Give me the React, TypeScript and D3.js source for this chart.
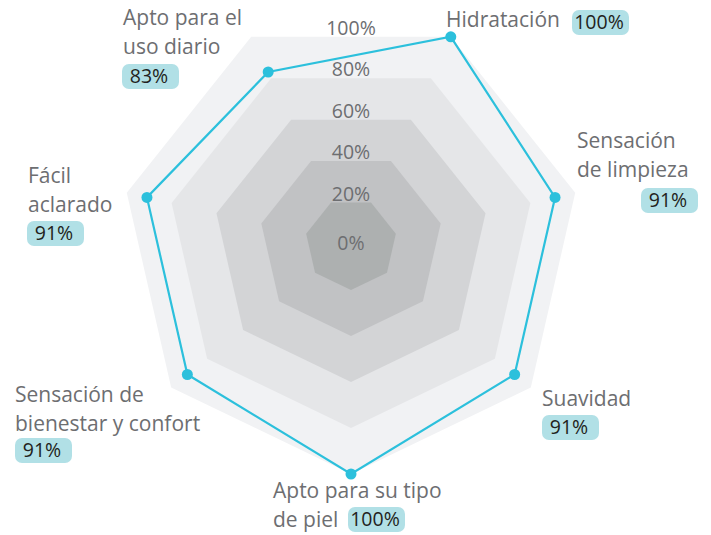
import React from "react";
import * as d3 from "d3";

const categories = [
  "Hidratación",
  "Sensación de limpieza",
  "Suavidad",
  "Apto para su tipo de piel",
  "Sensación de bienestar y confort",
  "Fácil aclarado",
  "Apto para el uso diario",
];
const values = [100, 91, 91, 100, 91, 91, 83];
const labelLines = [
  ["Hidratación"],
  ["Sensación", "de limpieza"],
  ["Suavidad"],
  ["Apto para su tipo", "de piel"],
  ["Sensación de", "bienestar y confort"],
  ["Fácil", "aclarado"],
  ["Apto para el", "uso diario"],
];
const levels = [100, 80, 60, 40, 20];
const tickLabels = ["0%", "20%", "40%", "60%", "80%", "100%"];
const tickValues = [0, 20, 40, 60, 80, 100];

const W = 711;
const H = 535;
const cx = 351;
const cy = 244;
const R = 230;
const FONT = "'Open Sans', sans-serif";

const bandColors = ["#f1f2f4", "#e5e6e8", "#d3d4d6", "#c1c2c4", "#adb0b0"];

// label layout: text anchor (x, first baseline) and badge (x, top)
const layout = [
  { x: 446, y: 27, bx: 572, by: 10 },
  { x: 577, y: 148, bx: 641, by: 188 },
  { x: 542, y: 406, bx: 542, by: 415 },
  { x: 273, y: 498, bx: 348, by: 507 },
  { x: 15, y: 402, bx: 15, by: 438 },
  { x: 28, y: 183, bx: 27, by: 221 },
  { x: 123, y: 25, bx: 122, by: 64 },
];

export default function App() {
  const n = categories.length;
  const r = d3.scaleLinear().domain([0, 100]).range([0, R]);
  const angle = d3
    .scaleLinear()
    .domain([0, n])
    .range([-Math.PI / 2 + Math.PI / n, -Math.PI / 2 + Math.PI / n + 2 * Math.PI]);
  const pt = (i: number, v: number): [number, number] => [
    cx + r(v) * Math.cos(angle(i)),
    cy + r(v) * Math.sin(angle(i)),
  ];
  const line = d3.line<[number, number]>().curve(d3.curveLinearClosed);
  const dataPts = values.map((v, i) => pt(i, v));
  const topEdge = (v: number) => cy - r(v) * Math.cos(Math.PI / n);

  return (
    <svg
      width={W}
      height={H}
      style={{ position: "absolute", left: 0, top: 0, background: "#fff" }}
      fontFamily={FONT}
    >
      {levels.map((lv, k) => (
        <path
          key={lv}
          d={line(d3.range(n).map((i) => pt(i, lv))) || ""}
          fill={bandColors[k]}
        />
      ))}
      {tickValues.map((tv, k) => (
        <text
          key={tv}
          x={cx}
          y={tv === 0 ? cy + 6 : topEdge(tv) - 2}
          textAnchor="middle"
          fontSize={19.5}
          fill="#6d6e71"
        >
          {tickLabels[k]}
        </text>
      ))}
      <path d={line(dataPts) || ""} fill="none" stroke="#2cc0dc" strokeWidth={2.2} />
      {dataPts.map((p, i) => (
        <circle key={i} cx={p[0]} cy={p[1]} r={5.5} fill="#2cc0dc" />
      ))}
      {categories.map((c, i) => {
        const L = layout[i];
        return (
          <g key={c}>
            {labelLines[i].map((t, j) => (
              <text key={j} x={L.x} y={L.y + j * 28.5} fontSize={21} fill="#6d6e71">
                {t}
              </text>
            ))}
            <rect x={L.bx} y={L.by} width={57} height={25} rx={7} fill="#b1e0e6" />
            <text
              x={L.bx + 27}
              y={L.by + 19}
              textAnchor="middle"
              fontSize={19.5}
              fill="#231f20"
            >
              {values[i]}%
            </text>
          </g>
        );
      })}
    </svg>
  );
}
